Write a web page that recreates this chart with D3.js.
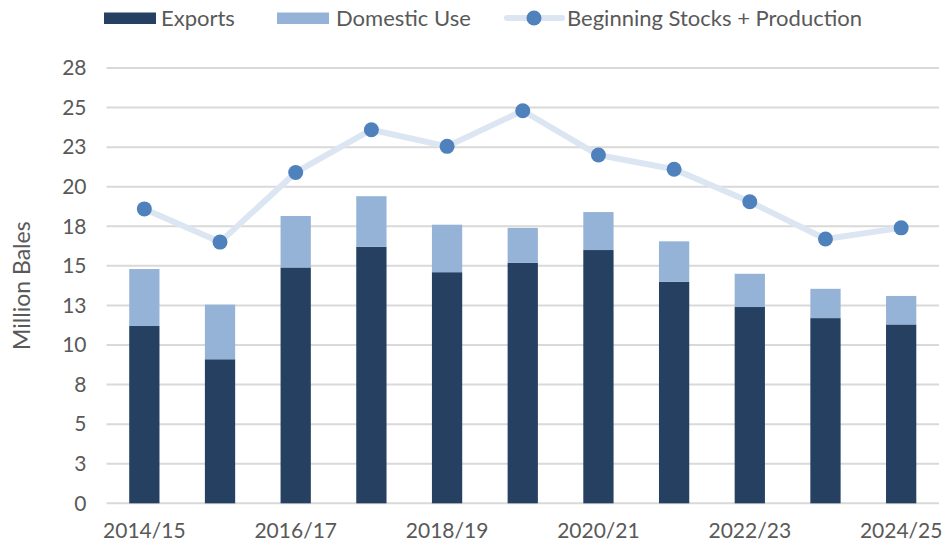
<!DOCTYPE html>
<html lang="en">
	<head>
		<meta charset="utf-8">
		<title>Cotton supply and use</title>
		<script type="text/javascript" src="https://cdn.jsdelivr.net/npm/d3@7"></script>
		<style>
			body { margin: 0; background: #ffffff; }
		</style>
	</head>
	<body>
		<script type="text/javascript">

		// -- Data -- //

		let years = ["2014/15", "2015/16", "2016/17", "2017/18", "2018/19", "2019/20",
			"2020/21", "2021/22", "2022/23", "2023/24", "2024/25"];
		let exports = [11.2, 9.1, 14.9, 16.2, 14.6, 15.2, 16.0, 14.0, 12.4, 11.7, 11.3];
		let domesticUse = [3.6, 3.45, 3.25, 3.2, 3.0, 2.2, 2.4, 2.55, 2.1, 1.85, 1.8];
		let supply = [18.6, 16.5, 20.9, 23.6, 22.55, 24.8, 22.0, 21.1, 19.05, 16.7, 17.4];
		let yTicks = [0, 2.5, 5, 7.5, 10, 12.5, 15, 17.5, 20, 22.5, 25, 27.5];
		let xTickLabels = ["2014/15", "2016/17", "2018/19", "2020/21", "2022/23", "2024/25"];

		// -- Setting -- //

		let canvasWidth = 945;
		let canvasHeight = 548;
		let plotLeft = 106.5, plotRight = 939, plotTop = 68, plotBottom = 503.3;

		let fontFamily = "Lato, 'Open Sans', sans-serif";
		let textColor = "#595959";
		let colExports = "#264061";
		let colDomestic = "#95b3d7";
		let colLine = "#dce6f2";
		let colMarker = "#4f81bd";

		const canvas = d3.select("body")
			.append("svg")
			.attr("width", canvasWidth)
			.attr("height", canvasHeight);

		let rows = years.map(function(y, i) {
			return { year: y, Exports: exports[i], Domestic: domesticUse[i], supply: supply[i] };
		});

		let x = d3.scaleBand()
			.domain(years)
			.range([plotLeft, plotRight])
			.paddingInner(0.6)
			.paddingOuter(0.3);

		let y = d3.scaleLinear()
			.domain([0, 27.5])
			.range([plotBottom, plotTop]);

		// -- Grid and axes -- //

		canvas.append("g")
			.selectAll("line")
			.data(yTicks)
			.join("line")
				.attr("x1", plotLeft)
				.attr("x2", plotRight)
				.attr("y1", d => y(d))
				.attr("y2", d => y(d))
				.attr("stroke", "#d9d9d9")
				.attr("stroke-width", 2);

		let yAxis = canvas.append("g")
			.attr("transform", `translate(${plotLeft - 20},0)`)
			.call(d3.axisLeft(y).tickValues(yTicks).tickSize(0).tickPadding(0)
				.tickFormat(d => Math.round(d)));
		yAxis.select(".domain").remove();
		yAxis.selectAll("text")
			.attr("font-family", fontFamily)
			.attr("font-size", 21)
			.attr("fill", textColor);

		let xAxis = canvas.append("g")
			.attr("transform", `translate(0,${plotBottom})`)
			.call(d3.axisBottom(x).tickSize(0).tickPadding(20)
				.tickFormat(d => xTickLabels.indexOf(d) >= 0 ? d : ""));
		xAxis.select(".domain").remove();
		xAxis.selectAll("text")
			.attr("font-family", fontFamily)
			.attr("font-size", 21)
			.attr("fill", textColor);

		canvas.append("text")
			.attr("transform", `translate(30,${(plotTop + plotBottom) / 2}) rotate(-90)`)
			.attr("text-anchor", "middle")
			.attr("font-family", fontFamily)
			.attr("font-size", 23)
			.attr("fill", textColor)
			.text("Million Bales");

		// -- Bars -- //

		let stacked = d3.stack().keys(["Exports", "Domestic"])(rows);
		let barColors = { Exports: colExports, Domestic: colDomestic };

		canvas.append("g")
			.selectAll("g")
			.data(stacked)
			.join("g")
				.attr("fill", d => barColors[d.key])
			.selectAll("rect")
			.data(d => d)
			.join("rect")
				.attr("x", d => x(d.data.year))
				.attr("width", x.bandwidth())
				.attr("y", d => y(d[1]))
				.attr("height", d => y(d[0]) - y(d[1]));

		// -- Line -- //

		let line = d3.line()
			.x(d => x(d.year) + x.bandwidth() / 2)
			.y(d => y(d.supply));

		canvas.append("path")
			.datum(rows)
			.attr("d", line)
			.attr("fill", "none")
			.attr("stroke", colLine)
			.attr("stroke-width", 6)
			.attr("stroke-linejoin", "round");

		canvas.append("g")
			.selectAll("circle")
			.data(rows)
			.join("circle")
				.attr("cx", d => x(d.year) + x.bandwidth() / 2)
				.attr("cy", d => y(d.supply))
				.attr("r", 7.5)
				.attr("fill", colMarker);

		// -- Legend -- //

		let legend = canvas.append("g")
			.attr("font-family", fontFamily)
			.attr("font-size", 22)
			.attr("fill", textColor);

		legend.append("rect").attr("x", 104).attr("y", 12.5).attr("width", 52).attr("height", 11.5).attr("fill", colExports);
		legend.append("text").attr("x", 161).attr("y", 25.5).text("Exports");

		legend.append("rect").attr("x", 277).attr("y", 12.5).attr("width", 52).attr("height", 11.5).attr("fill", colDomestic);
		legend.append("text").attr("x", 336).attr("y", 25.5).text("Domestic Use");

		legend.append("line").attr("x1", 507).attr("x2", 562).attr("y1", 18).attr("y2", 18)
			.attr("stroke", colLine).attr("stroke-width", 6).attr("stroke-linecap", "round");
		legend.append("circle").attr("cx", 534).attr("cy", 18).attr("r", 7.5).attr("fill", colMarker);
		legend.append("text").attr("x", 567).attr("y", 25.5).text("Beginning Stocks + Production");

		</script>
	</body>
</html>
